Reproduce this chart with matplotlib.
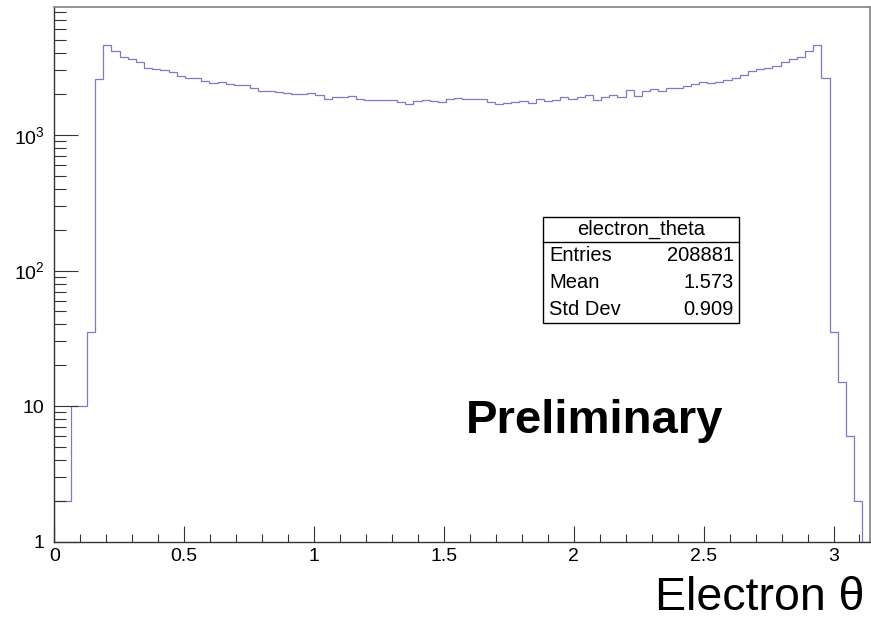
import numpy as np
import matplotlib.pyplot as plt
from matplotlib.patches import Rectangle
from matplotlib.lines import Line2D
from matplotlib.ticker import FixedLocator, MultipleLocator, LogLocator, NullFormatter

plt.rcParams['font.family'] = ['Liberation Sans', 'DejaVu Sans']
plt.rcParams['mathtext.fontset'] = 'custom'
plt.rcParams['mathtext.rm'] = 'Liberation Sans'
plt.rcParams['mathtext.default'] = 'regular'

# electron theta histogram, 100 bins over [0, pi]
counts = [2, 2, 10, 10, 35, 2590, 4570, 4180, 3770, 3650,
          3440, 3100, 3060, 3010, 2890, 2700, 2610, 2640, 2490, 2400,
          2450, 2370, 2320, 2320, 2220, 2120, 2120, 2070, 2040, 2000,
          2000, 2050, 1965, 1850, 1915, 1900, 1920, 1825, 1795, 1795,
          1795, 1795, 1760, 1700, 1765, 1820, 1790, 1755, 1855, 1885,
          1855, 1855, 1855, 1760, 1700, 1725, 1760, 1790, 1730, 1830,
          1765, 1805, 1890, 1830, 1895, 1965, 1820, 1915, 1960, 1915,
          2160, 1920, 2120, 2170, 2120, 2215, 2230, 2280, 2365, 2465,
          2410, 2470, 2550, 2640, 2750, 2980, 3040, 3100, 3230, 3420,
          3600, 3780, 4150, 4630, 2650, 35, 15, 6, 2, 0]
n_bins = len(counts)
theta_min, theta_max = 0.0, np.pi

xticks = [0, 0.5, 1, 1.5, 2, 2.5, 3]
xticklabels = ['0', '0.5', '1', '1.5', '2', '2.5', '3']
yticks = [1, 10, 100, 1000]
yticklabels = ['1', '10', '$10^{2}$', '$10^{3}$']

stats_title = 'electron_theta'
stats_rows = [('Entries', '208881'), ('Mean', '1.573'), ('Std Dev', '0.909')]

W, H = 871, 621
fig = plt.figure(figsize=(W / 100, H / 100), dpi=100)

def fx(px):
    return px / W

def fy(py):
    return 1 - py / H

ax = fig.add_axes([fx(54.3), fy(541.7), (870.3 - 54.3) / W, (541.7 - 6.7) / H])

edges = np.linspace(theta_min, theta_max, n_bins + 1)
# empty bins sit on the axis in log scale
ax.stairs(np.clip(counts, 1, None), edges, baseline=1, color='#7b7bc4', lw=0.9)

ax.set_yscale('log')
ax.set_xlim(theta_min, theta_max)
ax.set_ylim(1, 8820)

ax.xaxis.set_major_locator(FixedLocator(xticks))
ax.set_xticklabels(xticklabels)
ax.xaxis.set_minor_locator(MultipleLocator(0.1))
ax.yaxis.set_major_locator(FixedLocator(yticks))
ax.set_yticklabels(yticklabels)
ax.yaxis.set_minor_locator(LogLocator(base=10, subs=np.arange(2, 10)))
ax.yaxis.set_minor_formatter(NullFormatter())

ax.tick_params(axis='both', which='both', direction='in', color='#333333', width=0.8,
               labelsize=14, top=False, right=False)
ax.tick_params(axis='y', which='major', length=17, pad=7)
ax.tick_params(axis='y', which='minor', length=8.6)
ax.tick_params(axis='x', which='major', length=11.3, pad=4.5)
ax.tick_params(axis='x', which='minor', length=5.8)

for side in ['left', 'bottom']:
    ax.spines[side].set_color('#333333')
    ax.spines[side].set_linewidth(1.0)
for side in ['top', 'right']:
    ax.spines[side].set_color('#808080')
    ax.spines[side].set_linewidth(1.2)

# axis title, bottom right
fig.text(fx(864), fy(610), 'Electron \u03b8', ha='right', va='baseline', fontsize=33.5)

fig.text(fx(466), fy(433), 'Preliminary', ha='left', va='baseline',
         fontsize=34, fontweight='bold')

# stats box
bx0, bx1, by0, by1, bsep = 543, 739, 216.7, 323.3, 242.3
fig.patches.append(Rectangle((fx(bx0), fy(by1)), (bx1 - bx0) / W, (by1 - by0) / H,
                             transform=fig.transFigure, facecolor='white',
                             edgecolor='black', lw=1.0, zorder=5))
fig.lines.append(Line2D([fx(bx0), fx(bx1)], [fy(bsep), fy(bsep)],
                        transform=fig.transFigure, color='black', lw=1.0, zorder=6))
fig.text(fx((bx0 + bx1) / 2), fy((by0 + bsep) / 2), stats_title,
         ha='center', va='center', fontsize=14.5, zorder=7)
row_h = (by1 - bsep) / len(stats_rows)
for i, (name, val) in enumerate(stats_rows):
    yc = bsep + row_h * (i + 0.5)
    fig.text(fx(bx0 + 6), fy(yc), name, ha='left', va='center', fontsize=14.5, zorder=7)
    fig.text(fx(bx1 - 5), fy(yc), val, ha='right', va='center', fontsize=14.5, zorder=7)

fig.savefig('out.png', dpi=100)
